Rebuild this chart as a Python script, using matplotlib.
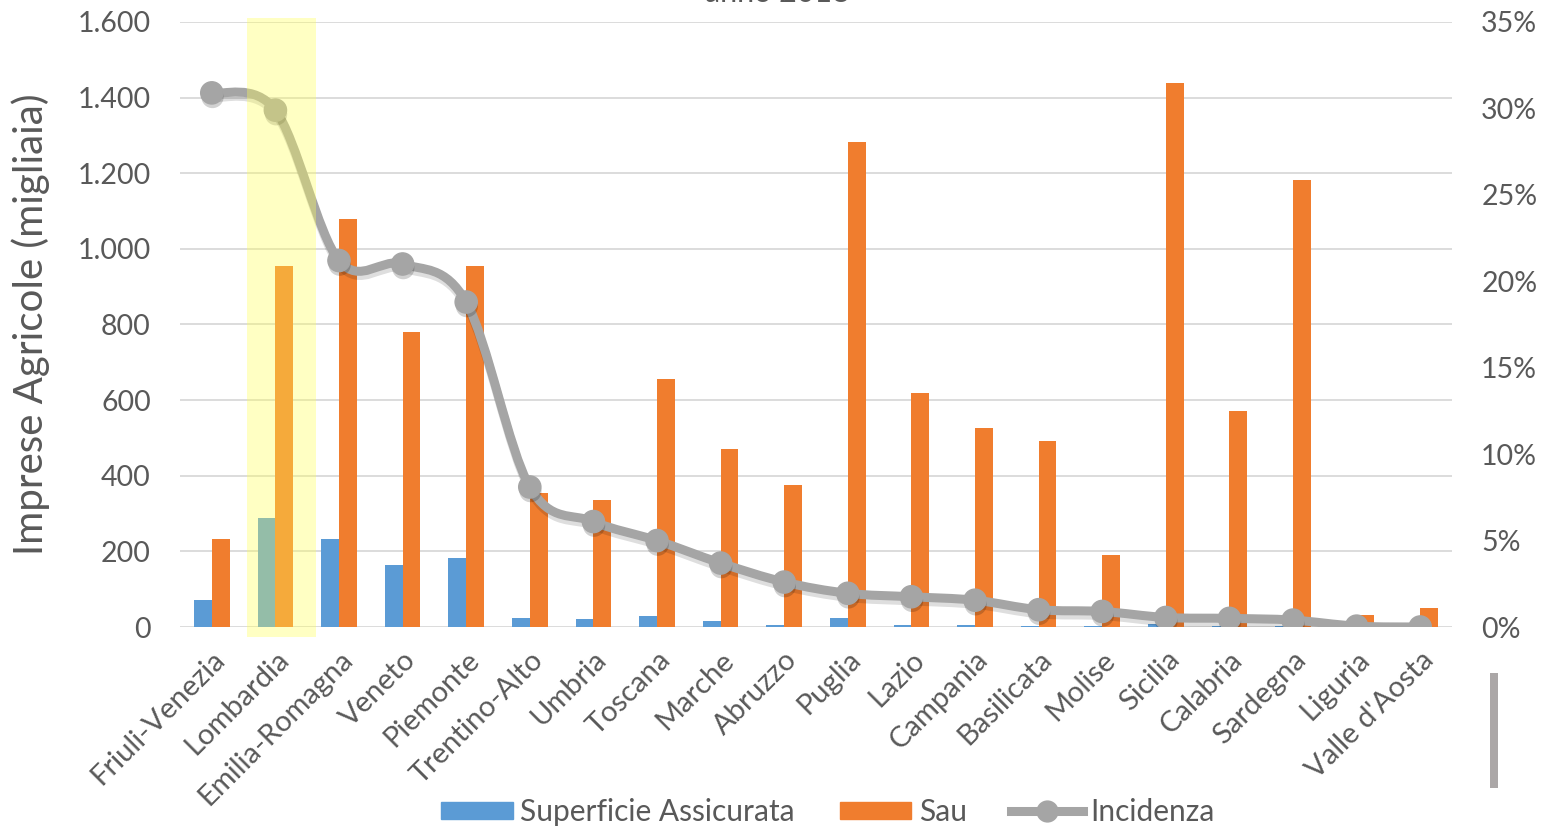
"""Superficie assicurata vs SAU per regione, con incidenza (asse destro)."""
import matplotlib
matplotlib.use("Agg")
import matplotlib.pyplot as plt
import matplotlib.patheffects as pe
from matplotlib.path import Path
from matplotlib.patches import PathPatch, Rectangle
from matplotlib.ticker import FuncFormatter, MultipleLocator
from matplotlib.lines import Line2D
import numpy as np

plt.rcParams["font.family"] = ["Lato", "DejaVu Sans"]

REGIONI = ["Friuli-Venezia", "Lombardia", "Emilia-Romagna", "Veneto", "Piemonte",
           "Trentino-Alto", "Umbria", "Toscana", "Marche", "Abruzzo", "Puglia",
           "Lazio", "Campania", "Basilicata", "Molise", "Sicilia", "Calabria",
           "Sardegna", "Liguria", "Valle d'Aosta"]
SUP_ASSICURATA = [72, 287, 233, 164, 182, 24, 20, 29, 15, 6, 25,
                  6, 6, 3, 2, 9, 2, 3, 1, 1]
SAU = [233, 956, 1080, 780, 956, 355, 336, 655, 471, 376, 1283,
       620, 526, 492, 191, 1438, 570, 1182, 33, 51]
INCIDENZA = [30.9, 29.9, 21.2, 21.0, 18.8, 8.1, 6.1, 5.0, 3.7, 2.6, 1.95,
             1.75, 1.55, 1.0, 0.9, 0.55, 0.5, 0.4, 0.05, 0.0]

BLU = "#5B9BD5"
ARANCIO = "#F07D2E"
GRIGIO = "#A5A5A5"
TESTO = "#595959"

W, H = 1543, 830
fig = plt.figure(figsize=(W / 100, H / 100), dpi=100)
ax = fig.add_axes([180 / W, 1 - 627 / H, (1452 - 180) / W, (627 - 22) / H])
ax2 = ax.twinx()

x = np.arange(len(REGIONI))
bw = 0.28
ax.bar(x - bw / 2, SUP_ASSICURATA, bw, color=BLU, zorder=2,
       label="Superficie Assicurata")
ax.bar(x + bw / 2, SAU, bw, color=ARANCIO, zorder=2, label="Sau")

ax.set_xlim(-0.5, len(REGIONI) - 0.5)
ax.set_ylim(0, 1600)
ax.yaxis.set_major_locator(MultipleLocator(200))
ax.yaxis.set_major_formatter(FuncFormatter(lambda v, p: f"{int(v):,}".replace(",", ".")))
ax.grid(axis="y", color="#D9D9D9", lw=1.3, zorder=0)
ax.set_axisbelow(True)
for s in ax.spines.values():
    s.set_visible(False)
for s in ax2.spines.values():
    s.set_visible(False)
ax.tick_params(length=0, labelsize=20.5, colors=TESTO, pad=21)
ax.set_xticks(x)
ax.set_xticklabels(REGIONI, rotation=45, ha="right", rotation_mode="anchor",
                   fontsize=21, color=TESTO)
ax.tick_params(axis="x", pad=14)
ax.set_ylabel("Imprese Agricole (migliaia)", fontsize=29, color=TESTO, labelpad=20)

# incidenza: linea smussata (bezier tipo Excel) sull'asse destro
ax2.set_ylim(0, 35)
ax2.yaxis.set_major_locator(MultipleLocator(5))
ax2.yaxis.set_major_formatter(FuncFormatter(lambda v, p: f"{int(round(v))}%"))
ax2.tick_params(length=0, labelsize=20.5, colors=TESTO, pad=21)

pts = np.column_stack([x, INCIDENZA]).astype(float)
verts = [tuple(pts[0])]
codes = [Path.MOVETO]
n = len(pts)
for i in range(n - 1):
    p0 = pts[max(i - 1, 0)]
    p1 = pts[i]
    p2 = pts[i + 1]
    p3 = pts[min(i + 2, n - 1)]
    c1 = p1 + (p2 - p0) / 6
    c2 = p2 - (p3 - p1) / 6
    verts += [tuple(c1), tuple(c2), tuple(p2)]
    codes += [Path.CURVE4] * 3
shadow = [pe.SimpleLineShadow(offset=(0.5, -3), shadow_color="k", alpha=0.13), pe.Normal()]
curve = PathPatch(Path(verts, codes), fill=False, edgecolor=GRIGIO, lw=6.5,
                  capstyle="round", joinstyle="round", zorder=3, path_effects=shadow)
ax2.add_patch(curve)
ax2.plot(x, INCIDENZA, "o", ms=16, color=GRIGIO, zorder=4,
         path_effects=[pe.SimplePatchShadow(offset=(0.5, -3), shadow_rgbFace="k", alpha=0.18),
                       pe.Normal()])

# evidenziazione Lombardia
ax2.add_patch(Rectangle((0.553, -26), 1.085, 1637, transform=ax.transData,
                        facecolor="#FFFF55", alpha=0.35, lw=0, zorder=6, clip_on=False))

# titolo (tagliato in alto)
fig.text(777 / W, 1 - 2 / H, "anno 2018", ha="center", va="baseline",
         fontsize=22, color=TESTO)

# barra grigia a destra
fig.patches.append(Rectangle((1490 / W, 1 - 788 / H), 8 / W, 115 / H,
                             transform=fig.transFigure, facecolor="#ABA7A7", lw=0))

handles = [Rectangle((0, 0), 1, 1, color=BLU), Rectangle((0, 0), 1, 1, color=ARANCIO),
           Line2D([], [], color=GRIGIO, lw=6.5, marker="o", ms=15)]
fig.legend(handles, ["Superficie Assicurata", "Sau", "Incidenza"], loc="center",
           bbox_to_anchor=(828 / W, 1 - 812 / H), ncol=3, frameon=False,
           fontsize=21.5, handlelength=2.4, handleheight=0.5, handletextpad=0.25,
           columnspacing=1.5, labelcolor=TESTO)

fig.savefig("out.png", dpi=100)
